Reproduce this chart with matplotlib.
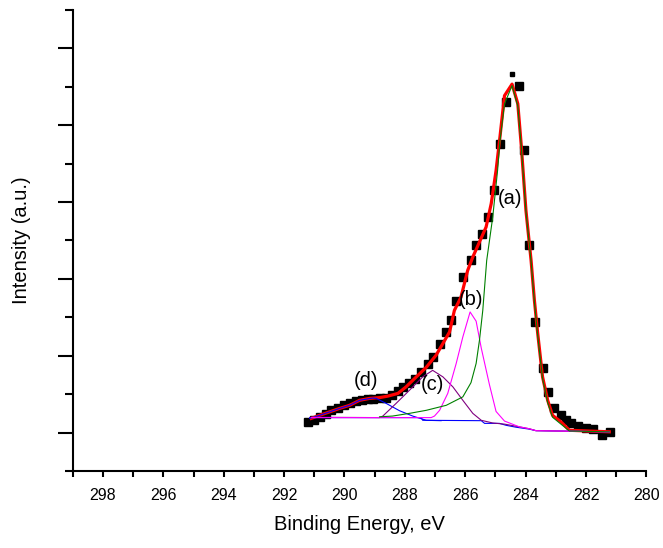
import matplotlib
matplotlib.use('Agg')
import matplotlib.pyplot as plt
from matplotlib.ticker import MultipleLocator, NullFormatter

plt.rcParams['font.family'] = ['Liberation Sans', 'DejaVu Sans']

# measured spectrum (binding energy in eV, intensity in arbitrary units)
be_data = [291.22, 291.02, 290.82, 290.62, 290.43, 290.23, 290.03, 289.83, 289.63,
           289.43, 289.23, 289.04, 288.84, 288.64, 288.44, 288.24, 288.05, 287.85,
           287.65, 287.45, 287.25, 287.08, 286.85, 286.63, 286.47, 286.32, 286.06,
           285.81, 285.64, 285.46, 285.26, 285.04, 284.85, 284.65, 284.22, 284.04,
           283.88, 283.68, 283.44, 283.26, 283.07, 282.82, 282.66, 282.50, 282.28,
           282.00, 281.78, 281.47, 281.20]
int_data = [1.27, 1.32, 1.40, 1.48, 1.58, 1.64, 1.71, 1.77, 1.82,
            1.84, 1.87, 1.87, 1.90, 1.90, 1.97, 2.08, 2.18, 2.29,
            2.39, 2.57, 2.78, 2.96, 3.30, 3.61, 3.92, 4.42, 5.04,
            5.48, 5.87, 6.16, 6.60, 7.32, 8.52, 9.61, 10.03, 8.36,
            5.87, 3.87, 2.68, 2.05, 1.64, 1.45, 1.32, 1.25, 1.17,
            1.12, 1.09, 0.94, 1.01]
# one stray point drawn smaller
be_extra = [284.45]
int_extra = [10.34]

# fitted envelope
be_fit = [291.10, 290.82, 290.49, 290.16, 289.83, 289.50, 289.17, 288.84, 288.56,
          288.23, 287.96, 287.62, 287.29, 286.97, 286.74, 286.52, 286.36, 286.14,
          285.92, 285.75, 285.53, 285.31, 285.14, 284.98, 284.85, 284.70, 284.45,
          284.26, 284.15, 283.99, 283.82, 283.71, 283.60, 283.44, 283.27, 283.11,
          282.83, 282.55, 281.23]
int_fit = [1.37, 1.45, 1.54, 1.63, 1.71, 1.84, 1.89, 1.91, 1.95,
           2.02, 2.19, 2.45, 2.70, 3.01, 3.32, 3.62, 4.18, 4.53,
           5.22, 5.57, 5.96, 6.35, 6.96, 7.82, 8.70, 9.77, 10.07,
           9.56, 8.52, 6.78, 5.48, 4.44, 3.58, 2.45, 1.84, 1.45,
           1.28, 1.06, 1.02]

# component (a)
be_a = [288.84, 288.41, 287.85, 287.29, 286.63, 286.08, 285.81, 285.64, 285.53,
        285.42, 285.29, 285.09, 284.93, 284.85, 284.70, 284.45, 284.26, 284.15,
        283.99, 283.82, 283.71, 283.60, 283.44, 283.27, 283.11, 282.83, 282.55, 281.23]
int_a = [1.41, 1.43, 1.50, 1.58, 1.71, 1.93, 2.30, 2.80, 3.40,
         4.18, 5.48, 6.61, 7.82, 8.60, 9.56, 10.03, 9.50, 8.50,
         6.76, 5.45, 4.40, 3.52, 2.40, 1.78, 1.40, 1.22, 1.04, 1.02]

# component (b)
be_b = [291.10, 287.13, 287.02, 286.85, 286.58, 286.30, 286.08, 285.84, 285.64,
        285.47, 285.20, 284.98, 284.70, 284.21, 283.88, 283.66, 281.23]
int_b = [1.39, 1.39, 1.43, 1.58, 2.02, 2.80, 3.49, 4.14, 3.90,
         3.20, 2.25, 1.55, 1.30, 1.15, 1.10, 1.05, 1.02]

# component (c)
be_c = [291.10, 288.84, 288.73, 288.29, 287.85, 287.41, 287.08, 286.74, 286.41,
        286.08, 285.75, 285.47, 285.09, 284.70, 284.21, 283.88, 283.66, 281.23]
int_c = [1.40, 1.39, 1.43, 1.76, 2.10, 2.45, 2.62, 2.45, 2.19,
         1.84, 1.50, 1.32, 1.25, 1.22, 1.15, 1.10, 1.05, 1.02]

# component (d)
be_d = [291.15, 290.82, 290.49, 290.16, 289.83, 289.50, 289.06, 288.95, 288.62,
        288.18, 287.74, 287.29, 286.80]
int_d = [1.37, 1.45, 1.54, 1.63, 1.71, 1.84, 1.90, 1.89, 1.76,
         1.57, 1.43, 1.32, 1.31]

# background
be_bg = [291.15, 287.46, 287.41, 285.47, 285.36, 284.87, 284.65, 284.32, 283.88,
         283.66, 281.23]
int_bg = [1.39, 1.39, 1.32, 1.31, 1.24, 1.24, 1.19, 1.14, 1.09, 1.05, 1.02]

peak_labels = ['(a)', '(b)', '(c)', '(d)']
label_be = [284.51, 285.80, 287.09, 289.30]
label_int = [7.09, 4.47, 2.26, 2.36]

fig = plt.figure(figsize=(6.63, 5.48), dpi=100)
ax = fig.add_axes([0.1097, 0.1405, 0.8653, 0.8413])

ax.plot(be_data, int_data, 's', color='k', ms=6, zorder=2)
ax.plot(be_extra, int_extra, 's', color='k', ms=3.5, zorder=2)
ax.plot(be_fit, int_fit, color='#ff0000', lw=2.3, zorder=3)
ax.plot(be_bg, int_bg, color='#0000ff', lw=0.8, zorder=4)
ax.plot(be_d, int_d, color='#0000ff', lw=0.8, zorder=4)
ax.plot(be_c, int_c, color='#800080', lw=0.8, zorder=4)
ax.plot(be_b, int_b, color='#ff00ff', lw=0.8, zorder=4)
ax.plot(be_a, int_a, color='#008000', lw=0.8, zorder=4)

for lab, xx, yy in zip(peak_labels, label_be, label_int):
    ax.text(xx, yy, lab, ha='center', va='center', fontsize=14.5, zorder=5)

ax.set_xlim(299, 280)
ax.set_ylim(0, 12)
ax.xaxis.set_major_locator(MultipleLocator(2))
ax.xaxis.set_minor_locator(MultipleLocator(1))
ax.yaxis.set_major_locator(MultipleLocator(2, offset=1))
ax.yaxis.set_minor_locator(MultipleLocator(2))
ax.yaxis.set_major_formatter(NullFormatter())

for side in ['top', 'right']:
    ax.spines[side].set_visible(False)
for side in ['left', 'bottom']:
    ax.spines[side].set_linewidth(1.5)

ax.tick_params(axis='x', which='both', direction='out', length=4, width=1.5,
               labelsize=11.5, pad=8)
ax.tick_params(axis='y', which='major', direction='out', length=11, width=1.5)
ax.tick_params(axis='y', which='minor', direction='out', length=6, width=1.5)

ax.set_xlabel('Binding Energy, eV', fontsize=14.5, labelpad=9)
ax.set_ylabel('Intensity (a.u.)', fontsize=14.5)
ax.yaxis.set_label_coords(-0.072, 0.5)

fig.savefig('out.png', dpi=100)
